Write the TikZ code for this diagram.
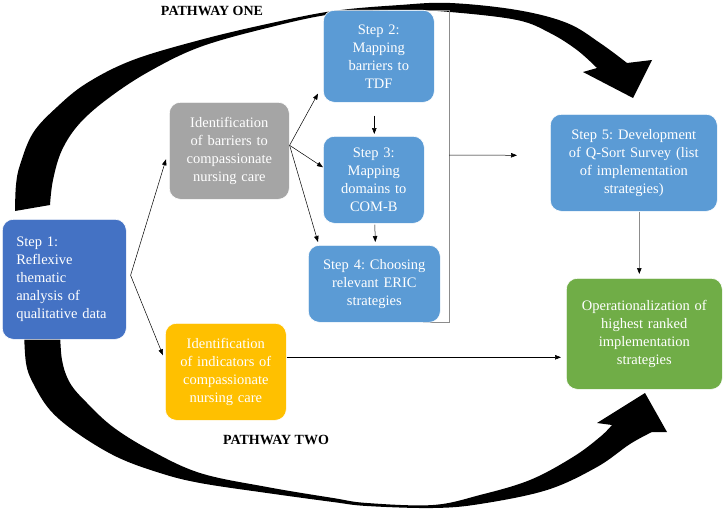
\documentclass[tikz,border=0pt]{standalone}
\usepackage{fontspec}
\setmainfont{Liberation Serif}
\usetikzlibrary{arrows.meta,calc}
\frenchspacing
\definecolor{cstepone}{HTML}{4472C4}
\definecolor{cgray}{HTML}{A5A5A5}
\definecolor{cblue}{HTML}{5B9BD5}
\definecolor{cgreen}{HTML}{70AD47}
\definecolor{cyellow}{HTML}{FFC000}
\definecolor{cbrk}{HTML}{8C8C8C}
\begin{document}
\begin{tikzpicture}[x=1pt,y=-1pt,
  box/.style={rectangle, rounded corners=11pt, draw=white, line width=0.6pt,
    text=white, align=center, font=\fontsize{14.5}{18}\selectfont\frenchspacing,
    inner sep=0pt, anchor=north west},
  conn/.style={-{Triangle[length=6pt,width=4.5pt]}, line width=0.5pt, black},
  brk/.style={line width=0.7pt, cbrk},
  lbl/.style={font=\bfseries\fontsize{14}{16}\selectfont}]
\useasboundingbox (0,0) rectangle (723,511);

% big curved arrows (behind boxes)
\fill[black] plot[smooth, tension=0.6] coordinates {(15,211) (16,185) (20,165) (33,133) (57,107) (87,83) (133,60) (200,40) (267,24) (333,11) (400,5) (450,3) (517,10) (567,23) (600,43) (627,63)}
  -- (652,60) -- (633,98) -- (583,72)
  -- plot[smooth, tension=0.6] coordinates {(597,68) (577,50) (550,33) (517,20) (450,12) (400,10) (333,14) (267,28) (200,47) (150,71) (110,97) (80,123) (62,150) (53,180) (50,205)}
  -- cycle;
\fill[black] plot[smooth, tension=0.6] coordinates {(24,330) (26,363) (33,383) (50,410) (77,433) (117,457) (160,473) (200,483) (267,493) (333,502) (367,506) (433,508) (480,504) (547,490) (597,467) (630,444) (652,432)}
  -- (667,432) -- (645,393) -- (597,423)
  -- plot[smooth, tension=0.6] coordinates {(612,425) (600,437) (573,457) (530,480) (480,495) (433,505) (367,503) (333,498) (267,487) (200,473) (150,450) (113,427) (87,403) (70,383) (62,360) (60,330)}
  -- cycle;

% bracket
\coordinate (bt) at (430,10);
\coordinate (btr) at (449,10);
\coordinate (bbr) at (449,322);
\coordinate (bb) at (423,322);
\coordinate (bmid) at (449,155);
\draw[brk] (bt) -- (btr) -- (bbr) -- (bb);

% nodes
\node[box, fill=cstepone, minimum width=124pt, minimum height=120pt, text width=96pt, align=left] (s1) at (2,219)
  {Step 1:\\Reflexive\\thematic\\analysis of\\qualitative data};
\node[box, fill=cgray, minimum width=120pt, minimum height=97pt, text width=112pt] (gray) at (169,102)
  {Identification\\of barriers to\\compassionate\\nursing care};
\node[box, fill=cyellow, minimum width=121pt, minimum height=97pt, text width=113pt] (yellow) at (165,323)
  {Identification\\of indicators of\\compassionate\\nursing care};
\node[box, fill=cblue, minimum width=111pt, minimum height=92pt, text width=103pt] (s2) at (323,10)
  {Step 2:\\Mapping\\barriers to\\TDF};
\node[box, fill=cblue, minimum width=101pt, minimum height=87pt, text width=95pt] (s3) at (323,136)
  {Step 3:\\Mapping\\domains to\\COM-B};
\node[box, fill=cblue, minimum width=132pt, minimum height=77pt, text width=124pt] (s4) at (308,245)
  {Step 4: Choosing\\relevant ERIC\\strategies};
\node[box, fill=cblue, minimum width=167pt, minimum height=97pt, text width=159pt] (s5) at (550,114)
  {Step 5: Development\\of Q-Sort Survey (list\\of implementation\\strategies)};
\node[box, fill=cgreen, minimum width=156pt, minimum height=111pt, text width=148pt] (green) at (566,278)
  {Operationalization of\\highest ranked\\implementation\\strategies};

\node[lbl] (p1) at (212,11) {PATHWAY ONE};
\node[lbl] (p2) at (276,440) {PATHWAY TWO};

% connectors
\coordinate (split) at ($(s1.east)+(4,-4)$);
\draw[conn] (split) -- ($(gray.west)+(-3,8.5)$);
\draw[conn] (split) -- ($(yellow.west)+(-2,-16.5)$);
\coordinate (gout) at ($(gray.east)+(0,-5.5)$);
\draw[conn] (gout) -- ($(s2.south west)+(-5,-9)$);
\draw[conn] (gout) -- ($(s3.west)+(0,-12.5)$);
\draw[conn] (gout) -- ($(s4.north west)+(10,-3)$);
\draw[conn] ($(s2.south)+(-4.5,13)$) -- ($(s3.north)+(0.5,-2)$);
\draw[conn] ($(s3.south)+(1,1)$) -- ($(s4.north)+(1,-3)$);
\draw[conn] (bmid) -- ($(s5.west)+(-33,-7.5)$);
\draw[line width=0.7pt, cbrk, -{Triangle[length=6pt,width=4.5pt,color=black]}] ($(s5.south)+(5.5,0)$) -- ($(green.north)+(-5,-4)$);
\draw[conn] ($(yellow.east)+(0,-14.5)$) -- ($(green.west)+(-5,23.5)$);
\end{tikzpicture}
\end{document}
